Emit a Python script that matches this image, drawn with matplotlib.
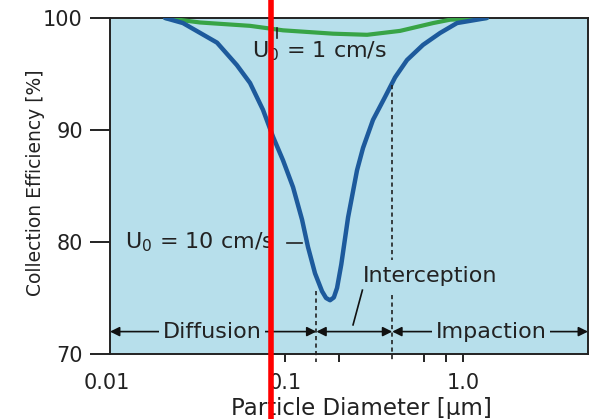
import matplotlib
matplotlib.use("Agg")
import matplotlib.pyplot as plt
from matplotlib.lines import Line2D

plt.rcParams['font.family'] = ['DejaVu Sans']
plt.rcParams['mathtext.fontset'] = 'dejavusans'

# ---- data ----
d_10 = [0.0212, 0.0267, 0.0415, 0.0536, 0.0636, 0.0752, 0.0856, 0.0974, 0.1109,
        0.1246, 0.1346, 0.1474, 0.1614, 0.170, 0.179, 0.188, 0.196, 0.207, 0.226,
        0.2537, 0.2742, 0.3119, 0.3645, 0.415, 0.4844, 0.5957, 0.7425, 0.9248, 1.36]
eff_10 = [100.0, 99.55, 97.8, 95.8, 94.2, 91.8, 89.4, 87.3, 84.9,
          82.0, 79.55, 77.2, 75.6, 75.0, 74.8, 75.05, 75.9, 78.0, 82.2,
          86.4, 88.4, 90.9, 92.95, 94.7, 96.25, 97.6, 98.66, 99.55, 100.0]

d_1 = [0.0212, 0.0333, 0.0636, 0.0974, 0.186, 0.289, 0.443, 0.68, 0.846, 1.36]
eff_1 = [100.0, 99.6, 99.3, 98.9, 98.6, 98.5, 98.85, 99.55, 99.85, 100.0]

x_ticks = [0.1, 1.0]
x_tick_labels = ["0.1", "1.0"]
x_first_label = (0.01, "0.01")
x_minor = [0.2, 0.6, 0.8]
y_ticks = [70, 80, 90, 100]

regime_bounds = [0.15, 0.4]     # diffusion/interception, interception/impaction
regime_names = ["Diffusion", "Interception", "Impaction"]
series_labels = [r"U$_0$ = 1 cm/s", r"U$_0$ = 10 cm/s"]

blue = "#1d5a9c"
green = "#38a446"
bg = "#b7dfeb"
ink = "#222222"

fig = plt.figure(figsize=(5.96, 4.19), dpi=100)
ax = fig.add_axes([110/596, 1-354/419, (588-110)/596, (354-18)/419])
ax.set_facecolor(bg)
ax.set_xscale("log")
ax.set_xlim(0.0104, 5.03)
ax.set_ylim(70, 100)

ax.plot(d_1, eff_1, color=green, lw=3.0, solid_capstyle='round', zorder=3)
ax.plot(d_10, eff_10, color=blue, lw=3.2, solid_capstyle='round',
        solid_joinstyle='round', zorder=4)

for s in ax.spines.values():
    s.set_color(ink)
    s.set_linewidth(1.4)

# ticks
ax.set_xticks(x_ticks)
ax.set_xticklabels(x_tick_labels)
ax.set_xticks(x_minor, minor=True)
ax.xaxis.set_minor_formatter(plt.NullFormatter())
ax.tick_params(axis='x', which='major', direction='out', length=5.5, width=1.4,
               labelsize=15, pad=8, color=ink, labelcolor=ink)
ax.tick_params(axis='x', which='minor', direction='out', length=5.5, width=1.4,
               color=ink)
ax.text(x_first_label[0], -0.0565, x_first_label[1], transform=ax.get_xaxis_transform(),
        ha='center', va='top', fontsize=15, color=ink, clip_on=False)
ax.set_yticks(y_ticks)
ax.tick_params(axis='y', direction='out', length=14.5, width=1.4, labelsize=15,
               pad=5, color=ink, labelcolor=ink)
for t in ax.yaxis.get_major_ticks():
    if t.get_loc() in (70, 100):
        t.tick1line.set_visible(False)

ax.set_xlabel("Particle Diameter [µm]", fontsize=16.5, color=ink)
ax.xaxis.set_label_coords(0.526, -0.128)
ax.set_ylabel("Collection Efficiency [%]", fontsize=13.5, color=ink)
ax.yaxis.set_label_coords(-0.136, 0.51)

# dashed regime boundaries
dash = (0, (2.5, 2))
ax.plot([regime_bounds[0]]*2, [75.6, 69.3], ls=dash, color=ink,
        lw=1.2, clip_on=False, zorder=5)
ax.plot([regime_bounds[1]]*2, [94.0, 78.4], ls=dash, color=ink,
        lw=1.2, clip_on=False, zorder=5)
ax.plot([regime_bounds[1]]*2, [75.3, 69.3], ls=dash, color=ink,
        lw=1.2, clip_on=False, zorder=5)

# regime arrows
y_arr = 72.0
aprops = dict(arrowstyle='<|-|>', color="#111111", lw=1.2,
              mutation_scale=14, shrinkA=0, shrinkB=0)
xmin, xmax = ax.get_xlim()
ax.annotate("", xy=(xmin, y_arr), xytext=(regime_bounds[0], y_arr),
            arrowprops=aprops, zorder=6)
ax.annotate("", xy=(regime_bounds[0], y_arr), xytext=(regime_bounds[1], y_arr),
            arrowprops=aprops, zorder=6)
ax.annotate("", xy=(regime_bounds[1], y_arr), xytext=(xmax, y_arr),
            arrowprops=aprops, zorder=6)
tb = dict(facecolor=bg, edgecolor='none', pad=2.5)
ax.text(0.0389, y_arr, regime_names[0], ha='center', va='center', fontsize=16,
        color=ink, bbox=tb, zorder=7)
ax.text(1.435, y_arr, regime_names[2], ha='center', va='center', fontsize=16,
        color=ink, bbox=tb, zorder=7)
ax.text(0.272, 77.0, regime_names[1], ha='left', va='center', fontsize=16,
        color=ink, zorder=7)
ax.plot([0.241, 0.272], [72.6, 75.7], color="#111111", lw=1.2, zorder=6)

# series labels with leaders
ax.text(0.0653, 97.0, series_labels[0], ha='left', va='center', fontsize=16,
        color=ink, zorder=7)
ax.plot([0.0901, 0.0901], [99.1, 98.2], color=ink, lw=1.2, zorder=6)
ax.text(0.0126, 80.0, series_labels[1], ha='left', va='center', fontsize=16,
        color=ink, zorder=7)
ax.plot([0.1026, 0.1246], [79.9, 79.9], color=ink, lw=1.2, zorder=6)

# red vertical marker line present in the reference image
fig.add_artist(Line2D([270.5/596, 270.5/596], [0, 1], transform=fig.transFigure,
                      color="#ff0000", lw=4.0, zorder=20))

fig.savefig("out.png", dpi=100)
